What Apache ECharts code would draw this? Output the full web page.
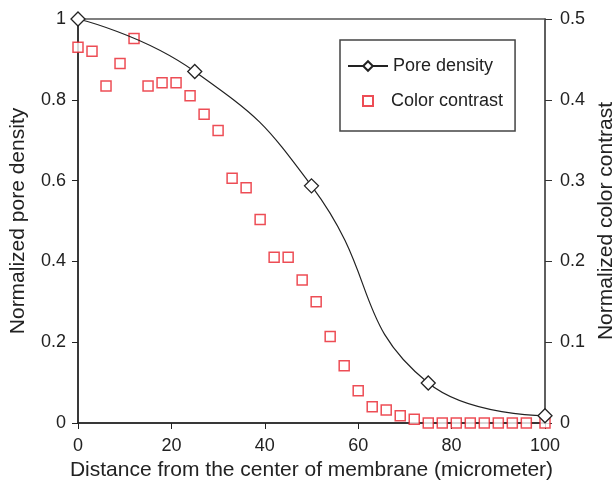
<!DOCTYPE html>
<html>
<head>
<meta charset="utf-8">
<script src="https://cdn.jsdelivr.net/npm/echarts@6/dist/echarts.min.js"></script>
<style>html,body{margin:0;padding:0;background:#fff}#c{width:616px;height:482px}</style>
</head>
<body>
<div id="c"></div>
<script>
const poreX = [0, 25, 50, 75, 100];
const poreY = [1.0, 0.87, 0.587, 0.099, 0.018];
const colorX = [0, 3, 6, 9, 12, 15, 18, 21, 24, 27, 30, 33, 36, 39, 42, 45, 48, 51, 54, 57, 60, 63, 66, 69, 72, 75, 78, 81, 84, 87, 90, 93, 96, 100];
const colorY = [0.465, 0.460, 0.417, 0.445, 0.476, 0.417, 0.421, 0.421, 0.405, 0.382, 0.362, 0.303, 0.291, 0.252, 0.205, 0.205, 0.177, 0.150, 0.107, 0.071, 0.040, 0.020, 0.016, 0.009, 0.0045, 0, 0, 0, 0, 0, 0, 0, 0, 0];
const xTicks = [0, 20, 40, 60, 80, 100];
const leftTicks = [0, 0.2, 0.4, 0.6, 0.8, 1];
const rightTicks = [0, 0.1, 0.2, 0.3, 0.4, 0.5];

const FONT = 'Liberation Sans, Arial, sans-serif';
const chart = echarts.init(document.getElementById('c'));
const red = '#e8202a';
chart.setOption({
  animation: false,
  backgroundColor: '#fff',
  grid: { left: 78, right: 71, top: 19, bottom: 59, containLabel: false, outerBoundsMode: 'none', show: true, borderColor: '#555', borderWidth: 1.5, backgroundColor: 'transparent' },
  legend: [
    {
      left: 340, top: 40, orient: 'vertical',
      padding: [17, 22, 56, 7], itemWidth: 40, itemHeight: 12,
      borderColor: '#444', borderWidth: 1.5, backgroundColor: '#fff',
      textStyle: { fontFamily: FONT, fontSize: 18, color: '#222' },
      data: [{ name: 'Pore density' }]
    },
    {
      left: 362, top: 92, orient: 'vertical', z: 10,
      padding: 0, itemWidth: 10, itemHeight: 10,
      textStyle: { fontFamily: FONT, fontSize: 18, color: '#222', padding: [0, 0, 0, 13] },
      data: [{ name: 'Color contrast' }]
    }
  ],
  xAxis: {
    type: 'value', min: 0, max: 100, interval: 20,
    name: 'Distance from the center of membrane (micrometer)', nameLocation: 'middle', nameGap: 37,
    nameTextStyle: { fontFamily: FONT, fontSize: 21, color: '#222' },
    axisLine: { lineStyle: { color: '#222', width: 1.5 } },
    axisTick: { show: true, length: 6, lineStyle: { color: '#222' } },
    axisLabel: { fontFamily: FONT, fontSize: 18, color: '#222', margin: 14, formatter: v => xTicks.includes(v) ? String(v) : '' },
    splitLine: { show: false }
  },
  yAxis: [
    {
      type: 'value', min: 0, max: 1, interval: 0.2, position: 'left',
      name: 'Normalized pore density', nameLocation: 'middle', nameGap: 49,
      nameTextStyle: { fontFamily: FONT, fontSize: 21, color: '#222' },
      axisLine: { show: true, lineStyle: { color: '#222', width: 1.5 } },
      axisTick: { show: true, length: 6, lineStyle: { color: '#222' } },
      axisLabel: { fontFamily: FONT, fontSize: 18, color: '#222', margin: 12, formatter: v => leftTicks.some(t => Math.abs(t - v) < 1e-9) ? String(+v.toFixed(1)) : '' },
      splitLine: { show: false }
    },
    {
      type: 'value', min: 0, max: 0.5, interval: 0.1, position: 'right',
      name: 'Normalized color contrast', nameLocation: 'middle', nameGap: 49, nameRotate: 90,
      nameTextStyle: { fontFamily: FONT, fontSize: 21, color: '#222' },
      axisLine: { show: true, lineStyle: { color: '#555', width: 1.5 } },
      axisTick: { show: true, length: 7, lineStyle: { color: '#333' } },
      axisLabel: { fontFamily: FONT, fontSize: 18, color: '#222', margin: 15, formatter: v => rightTicks.some(t => Math.abs(t - v) < 1e-9) ? String(+v.toFixed(1)) : '' },
      splitLine: { show: false }
    }
  ],
  series: [
    {
      name: 'Pore density', type: 'line', yAxisIndex: 0, smooth: 0.5,
      data: poreX.map((x, i) => [x, poreY[i]]),
      symbol: 'diamond', symbolSize: 14,
      lineStyle: { color: '#222', width: 1.2 },
      itemStyle: { color: '#fff', borderColor: '#222', borderWidth: 1.3 },
      z: 3
    },
    {
      name: 'Color contrast', type: 'scatter', yAxisIndex: 1,
      data: colorX.map((x, i) => [x, colorY[i]]),
      symbol: 'rect', symbolSize: 10,
      itemStyle: { color: '#fff', borderColor: red, borderWidth: 1.5 },
      z: 2
    }
  ]
});
</script>
</body>
</html>
